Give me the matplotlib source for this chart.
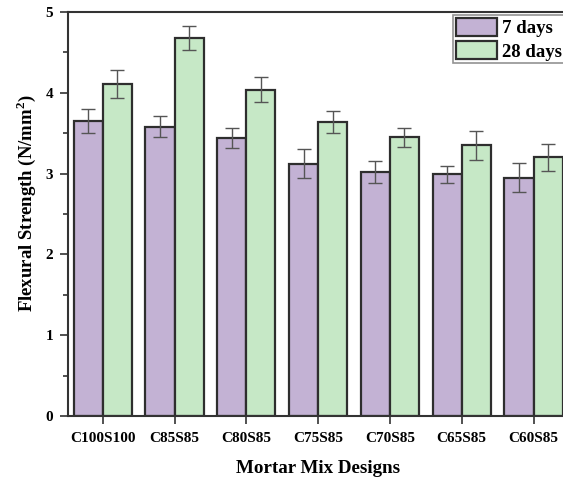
import numpy as np
import matplotlib
matplotlib.use("Agg")
import matplotlib.pyplot as plt
from matplotlib.ticker import MultipleLocator

plt.rcParams['font.family'] = ['Liberation Serif', 'DejaVu Serif']
plt.rcParams['font.weight'] = 'bold'
plt.rcParams['mathtext.fontset'] = 'custom'
plt.rcParams['mathtext.bf'] = 'Liberation Serif:bold'

mixes = ['C100S100', 'C85S85', 'C80S85', 'C75S85', 'C70S85', 'C65S85', 'C60S85']
days7 = [3.65, 3.58, 3.44, 3.12, 3.02, 2.99, 2.95]
days7_err = [0.15, 0.13, 0.12, 0.18, 0.14, 0.11, 0.18]
days28 = [4.11, 4.68, 4.04, 3.64, 3.45, 3.35, 3.20]
days28_err = [0.17, 0.15, 0.16, 0.14, 0.12, 0.18, 0.17]

fig = plt.figure(figsize=(5.63, 4.8), dpi=100)
# axes run past the right edge of the canvas
ax = fig.add_axes([0.1213, 0.1333, 0.8876, 0.8417])

x = np.arange(len(mixes))
w = 0.405
edge = '#2e2e2e'
ax.bar(x - w, days7, w, align='edge', color='#c3b2d4', edgecolor=edge, linewidth=1.6, label='7 days')
ax.bar(x, days28, w, align='edge', color='#c6e8c6', edgecolor=edge, linewidth=1.6, label='28 days')
ax.errorbar(x - w / 2, days7, yerr=days7_err, fmt='none', ecolor='#555555', elinewidth=1, capsize=5, capthick=1)
ax.errorbar(x + w / 2, days28, yerr=days28_err, fmt='none', ecolor='#555555', elinewidth=1, capsize=5, capthick=1)

ax.set_xlim(-0.48, 6.48)
ax.set_ylim(0, 5)
ax.set_xticks(x)
ax.set_xticklabels(mixes, fontsize=10, fontweight='bold')
ax.yaxis.set_major_locator(MultipleLocator(1))
ax.yaxis.set_minor_locator(MultipleLocator(0.5))
ax.tick_params(axis='both', which='major', direction='out', length=6, width=1.2, colors='#333333', labelcolor='black', labelsize=11)
ax.tick_params(axis='y', which='minor', direction='out', length=3.5, width=1.2, colors='#333333')
ax.tick_params(axis='y', pad=5)
ax.tick_params(axis='x', pad=5.5)
for lab in ax.get_yticklabels():
    lab.set_fontweight('bold')

for side in ['left', 'bottom', 'top']:
    ax.spines[side].set_linewidth(1.5)
    ax.spines[side].set_color('#333333')
ax.spines['right'].set_visible(False)

ax.set_ylabel('Flexural Strength (N/mm$^\\mathbf{2}$)', fontsize=13.5, fontweight='bold', labelpad=5)
ax.yaxis.label.set_y(0.527)
ax.set_xlabel('Mortar Mix Designs', fontsize=13.7, fontweight='bold', labelpad=11)

leg = ax.legend(loc='upper left', bbox_to_anchor=(453 / 563, 1 - 15 / 480), bbox_transform=fig.transFigure,
                fontsize=13.5, frameon=True, fancybox=False, borderpad=0.15, handlelength=2.2, handleheight=1.12,
                handletextpad=0.25, labelspacing=0.2, borderaxespad=0)
leg.get_frame().set_edgecolor('#777777')
leg.get_frame().set_linewidth(1.2)
for t in leg.get_texts():
    t.set_fontweight('bold')

fig.savefig('out.png', dpi=100)
